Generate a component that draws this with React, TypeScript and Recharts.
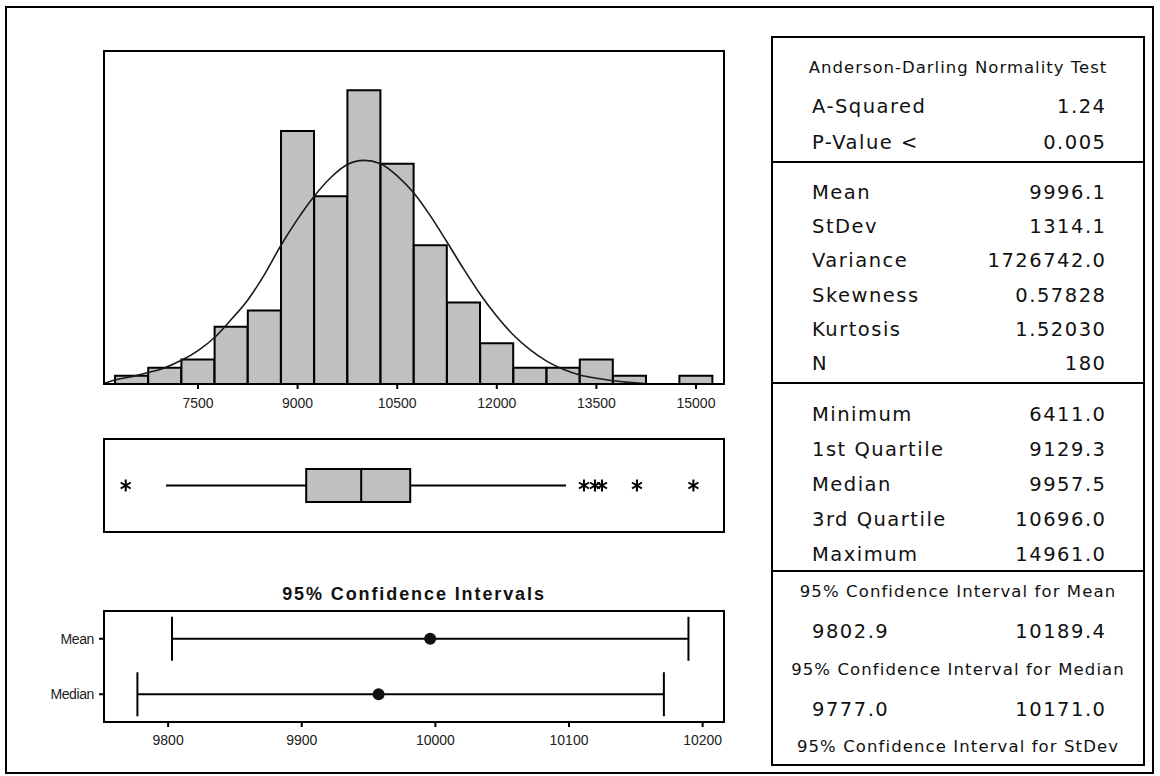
import React from 'react';
import {
  ComposedChart,
  Bar,
  Line,
  Scatter,
  ErrorBar,
  XAxis,
  YAxis,
  ReferenceLine,
} from 'recharts';

// ---- histogram (bins are 500 wide, labelled by midpoint) ----
const binMids = [6500, 7000, 7500, 8000, 8500, 9000, 9500, 10000, 10500, 11000, 11500, 12000, 12500, 13000, 13500, 14000, 14500, 15000];
const binCounts = [1, 2, 3, 7, 9, 31, 23, 36, 27, 17, 10, 5, 2, 2, 3, 1, 0, 1];

// fitted normal curve (count scale)
const curveX = [6090, 6250, 6500, 6750, 7000, 7250, 7500, 7750, 8000, 8250, 8500, 8750, 9000, 9250, 9500, 9750, 10000, 10250, 10500, 10750, 11000, 11250, 11500, 11750, 12000, 12250, 12500, 12750, 13000, 13250, 13500, 13750, 14000, 14300];
const curveY = [0.1, 0.5, 0.9, 1.4, 2.0, 2.9, 4.1, 5.7, 7.9, 10.3, 13.4, 17.0, 20.2, 23.0, 25.3, 26.9, 27.4, 27.0, 25.5, 23.4, 20.6, 17.4, 14.1, 11.0, 8.3, 6.0, 4.2, 2.8, 1.8, 1.1, 0.7, 0.4, 0.2, 0.0];

const histTicks = [7500, 9000, 10500, 12000, 13500, 15000];
const histDomain = [6084, 15422];
const countMax = 40.8;

// ---- boxplot ----
const boxQ1 = 9129.3;
const boxMedian = 9957.5;
const boxQ3 = 10696.0;
const whiskerLow = 7018;
const whiskerHigh = 13042;
const outliers = [6411, 13313, 13479, 13584, 14111, 14961];

// ---- confidence intervals ----
const ciNames = ['Mean', 'Median'];
const ciCenter = [9996.1, 9957.5];
const ciLow = [9802.9, 9777.0];
const ciHigh = [10189.4, 10171.0];
const ciTicks = [9800, 9900, 10000, 10100, 10200];
const ciDomain = [9752, 10216];

// ---- summary table ----
const adLabels = ['A-Squared', 'P-Value <'];
const adValues = ['1.24', '0.005'];
const momentLabels = ['Mean', 'StDev', 'Variance', 'Skewness', 'Kurtosis', 'N'];
const momentValues = ['9996.1', '1314.1', '1726742.0', '0.57828', '1.52030', '180'];
const quantLabels = ['Minimum', '1st Quartile', 'Median', '3rd Quartile', 'Maximum'];
const quantValues = ['6411.0', '9129.3', '9957.5', '10696.0', '14961.0'];
const ciTitles = ['95% Confidence Interval for Mean', '95% Confidence Interval for Median', '95% Confidence Interval for StDev'];
const ciTableLow = ['9802.9', '9777.0', '1192.7'];
const ciTableHigh = ['10189.4', '10171.0', '1466.1'];

const AXIS_FONT = { fill: '#222', fontSize: 14, fontFamily: '"Liberation Sans", Arial, sans-serif' };
const TABLE_FONT = '"DejaVu Sans", Verdana, sans-serif';

function Frame({ left, top, width, height, w = 2 }: { left: number; top: number; width: number; height: number; w?: number }) {
  return (
    <div
      style={{
        position: 'absolute', left, top, width, height,
        border: `${w}px solid #000`, boxSizing: 'border-box', pointerEvents: 'none',
      }}
    />
  );
}

function Histogram() {
  const histData = binMids.map((x, i) => ({ x, count: binCounts[i] }));
  const curveData = curveX.map((x, i) => ({ x, fit: curveY[i] }));
  return (
    <div style={{ position: 'absolute', left: 0, top: 0 }}>
      <ComposedChart
        width={760}
        height={420}
        data={histData}
        barCategoryGap={0}
        barGap={0}
        margin={{ top: 51, right: 36, bottom: 6, left: 104 }}
      >
        <XAxis
          xAxisId="bins"
          type="number"
          dataKey="x"
          domain={histDomain}
          ticks={histTicks}
          allowDataOverflow
          height={30}
          axisLine={false}
          tickSize={5}
          tickMargin={9}
          tickLine={{ stroke: '#000', strokeWidth: 2 }}
          tick={AXIS_FONT}
        />
        <XAxis xAxisId="curve" type="number" dataKey="x" domain={histDomain} allowDataOverflow hide />
        <YAxis type="number" domain={[0, countMax]} allowDataOverflow hide />
        <Bar
          xAxisId="bins"
          dataKey="count"
          fill="#c0c0c0"
          stroke="#000"
          strokeWidth={2}
          isAnimationActive={false}
        />
        <Line
          xAxisId="curve"
          data={curveData}
          dataKey="fit"
          type="monotone"
          stroke="#1a1a1a"
          strokeWidth={1.6}
          dot={false}
          activeDot={false}
          isAnimationActive={false}
        />
      </ComposedChart>
      <Frame left={103} top={50} width={622} height={335} />
    </div>
  );
}

const Asterisk = (props: any) => {
  const { cx, cy } = props;
  if (cx == null || cy == null) return null;
  return (
    <g stroke="#000" strokeWidth={2}>
      <line x1={cx} y1={cy - 6} x2={cx} y2={cy + 6} />
      <line x1={cx - 5} y1={cy - 3} x2={cx + 5} y2={cy + 3} />
      <line x1={cx - 5} y1={cy + 3} x2={cx + 5} y2={cy - 3} />
    </g>
  );
};

const MedianTick = (props: any) => {
  const { cx, cy } = props;
  if (cx == null || cy == null) return null;
  return <line x1={cx} y1={cy - 16.5} x2={cx} y2={cy + 16.5} stroke="#000" strokeWidth={2} />;
};

function BoxPlot() {
  const data = [{ name: 'box', iqr: [boxQ1, boxQ3] }];
  const medianData = [{ name: 'box', v: boxMedian }];
  const outlierData = outliers.map((v) => ({ name: 'box', v }));
  return (
    <div style={{ position: 'absolute', left: 0, top: 430 }}>
      <ComposedChart
        layout="vertical"
        width={760}
        height={110}
        data={data}
        margin={{ top: 9, right: 36, bottom: 8, left: 104 }}
      >
        <XAxis type="number" dataKey="v" domain={histDomain} allowDataOverflow hide />
        <YAxis type="category" dataKey="name" scale="band" allowDuplicatedCategory={false} hide />
        <ReferenceLine segment={[{ x: whiskerLow, y: 'box' }, { x: boxQ1, y: 'box' }]} stroke="#000" strokeWidth={2} />
        <ReferenceLine segment={[{ x: boxQ3, y: 'box' }, { x: whiskerHigh, y: 'box' }]} stroke="#000" strokeWidth={2} />
        <Bar dataKey="iqr" barSize={33} fill="#c0c0c0" stroke="#000" strokeWidth={2} isAnimationActive={false} />
        <Scatter data={medianData} shape={MedianTick} isAnimationActive={false} />
        <Scatter data={outlierData} shape={Asterisk} isAnimationActive={false} />
      </ComposedChart>
      <Frame left={103} top={8} width={622} height={95} />
    </div>
  );
}

const CiDot = (props: any) => {
  const { cx, cy } = props;
  if (cx == null || cy == null) return null;
  return <circle cx={cx} cy={cy} r={6} fill="#111" />;
};

function ConfidencePlot() {
  const data = ciNames.map((name, i) => ({
    name,
    value: ciCenter[i],
    err: [ciCenter[i] - ciLow[i], ciHigh[i] - ciCenter[i]],
  }));
  return (
    <div style={{ position: 'absolute', left: 0, top: 560 }}>
      <div
        style={{
          position: 'absolute', left: 104, width: 620, top: 23, textAlign: 'center',
          fontFamily: '"Liberation Sans", Arial, sans-serif', fontWeight: 'bold',
          fontSize: 18, letterSpacing: 1.9, lineHeight: '22px', color: '#111',
        }}
      >
        95% Confidence Intervals
      </div>
      <ComposedChart
        layout="vertical"
        width={760}
        height={200}
        data={data}
        margin={{ top: 51, right: 36, bottom: 8, left: 44 }}
      >
        <XAxis
          type="number"
          dataKey="value"
          domain={ciDomain}
          ticks={ciTicks}
          allowDataOverflow
          height={30}
          axisLine={false}
          tickSize={5}
          tickMargin={8}
          tickLine={{ stroke: '#000', strokeWidth: 2 }}
          tick={AXIS_FONT}
        />
        <YAxis
          type="category"
          dataKey="name"
          scale="band"
          allowDuplicatedCategory={false}
          width={60}
          axisLine={false}
          tickSize={5}
          tickMargin={5}
          tickLine={{ stroke: '#000', strokeWidth: 2 }}
          tick={{ ...AXIS_FONT, letterSpacing: -0.4 }}
        />
        <Scatter dataKey="value" shape={CiDot} isAnimationActive={false}>
          <ErrorBar dataKey="err" direction="x" width={22} stroke="#000" strokeWidth={2} />
        </Scatter>
      </ComposedChart>
      <Frame left={103} top={50} width={622} height={113} />
    </div>
  );
}

function Cell({ text, cy, left, right, center, size, spacing }: {
  text: string; cy: number; left?: number; right?: number; center?: boolean; size: number; spacing: number;
}) {
  const style: React.CSSProperties = {
    position: 'absolute', top: cy - 15, height: 30, lineHeight: '30px',
    fontFamily: TABLE_FONT, fontSize: size, letterSpacing: spacing, color: '#111', whiteSpace: 'nowrap',
  };
  if (center) {
    style.left = 772;
    style.width = 372;
    style.textAlign = 'center';
  } else if (right != null) {
    style.right = 1160 - right - spacing;
    style.textAlign = 'right';
  } else {
    style.left = left;
  }
  return <div style={style}>{text}</div>;
}

function SummaryTable() {
  const L = 812;
  const R = 1105;
  const big = 19.5;
  const bigSp = 1.5;
  const small = 16.5;
  const smallSp = 1.1;
  return (
    <>
      <Frame left={771} top={36} width={374} height={730} />
      <div style={{ position: 'absolute', left: 771, top: 161, width: 374, height: 2, background: '#000' }} />
      <div style={{ position: 'absolute', left: 771, top: 382, width: 374, height: 2, background: '#000' }} />
      <div style={{ position: 'absolute', left: 771, top: 570, width: 374, height: 2, background: '#000' }} />

      <Cell text="Anderson-Darling Normality Test" cy={68} center size={small} spacing={1.0} />
      {adLabels.map((t, i) => (
        <React.Fragment key={t}>
          <Cell text={t} cy={107 + i * 36} left={L} size={big} spacing={bigSp} />
          <Cell text={adValues[i]} cy={107 + i * 36} right={R} size={big} spacing={bigSp} />
        </React.Fragment>
      ))}
      {momentLabels.map((t, i) => (
        <React.Fragment key={t}>
          <Cell text={t} cy={193 + i * 34.2} left={L} size={big} spacing={bigSp} />
          <Cell text={momentValues[i]} cy={193 + i * 34.2} right={R} size={big} spacing={bigSp} />
        </React.Fragment>
      ))}
      {quantLabels.map((t, i) => (
        <React.Fragment key={t}>
          <Cell text={t} cy={415 + i * 35} left={L} size={big} spacing={bigSp} />
          <Cell text={quantValues[i]} cy={415 + i * 35} right={R} size={big} spacing={bigSp} />
        </React.Fragment>
      ))}
      {ciTitles.map((t, i) => (
        <React.Fragment key={t}>
          <Cell text={t} cy={592 + i * 77.5} center size={small} spacing={smallSp} />
          <Cell text={ciTableLow[i]} cy={632 + i * 77.5} left={L} size={big} spacing={bigSp} />
          <Cell text={ciTableHigh[i]} cy={632 + i * 77.5} right={R} size={big} spacing={bigSp} />
        </React.Fragment>
      ))}
    </>
  );
}

export default function App() {
  return (
    <div
      style={{
        position: 'relative', width: 1160, height: 776, overflow: 'hidden',
        background: '#fff', fontFamily: '"Liberation Sans", Arial, sans-serif',
      }}
    >
      <style>{'body{margin:0;}'}</style>
      <Histogram />
      <BoxPlot />
      <ConfidencePlot />
      <SummaryTable />
      <Frame left={5} top={6} width={1149} height={768} />
    </div>
  );
}
